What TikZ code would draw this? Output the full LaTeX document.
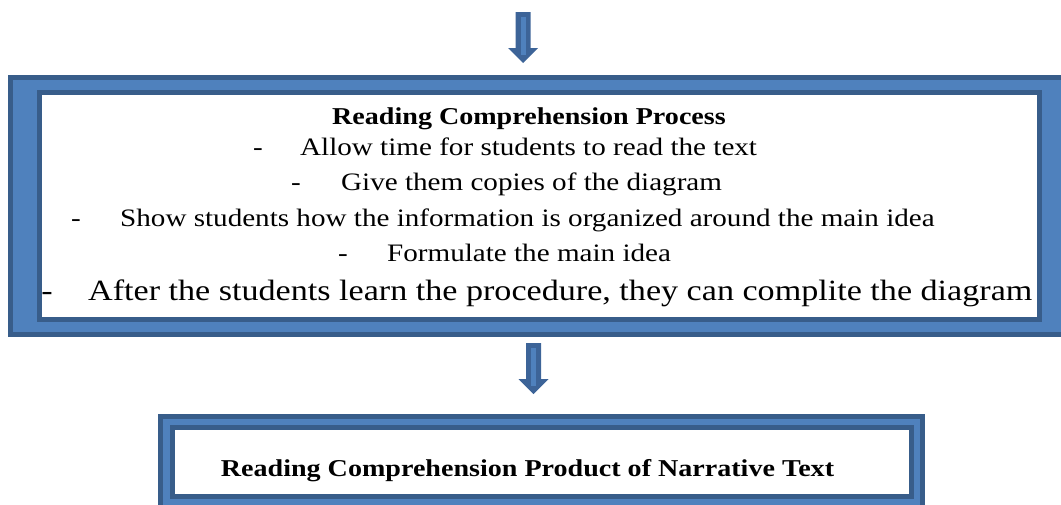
\documentclass[tikz,border=0pt]{standalone}
\usepackage{fontspec}
\setmainfont{Liberation Serif}[FakeStretch=1.16]
\definecolor{lightb}{HTML}{4F81BD}
\definecolor{darkb}{HTML}{385D8A}
\definecolor{arrowc}{HTML}{3D6498}
\tikzset{
  txt/.style={inner sep=0pt, anchor=base west, font=\fontsize{25.1}{30}\selectfont},
  bigtxt/.style={inner sep=0pt, anchor=base west, font=\fontsize{29.4}{36}\selectfont},
  dashmark/.style={inner sep=0pt, anchor=base, font=\fontsize{25.1}{30}\selectfont},
  titletxt/.style={inner sep=0pt, anchor=base, font=\fontsize{24.2}{30}\selectfont\bfseries},
  blockarrow/.pic={
    \fill[arrowc] (-7.5,0) -- (7.5,0) -- (7.5,36) -- (15,36) -- (0,51) -- (-15,36) -- (-7.5,36) -- cycle;
    \fill[lightb] (-2.5,5) rectangle (2.5,43);
  }
}
\begin{document}
\begin{tikzpicture}[x=1pt,y=-1pt]
\useasboundingbox (0,0) rectangle (1061,504);
\clip (0,0) rectangle (1061,504);
% top arrow
\pic at (523,12) {blockarrow};
% process frame
\fill[lightb] (8,75) rectangle (1070,337);
\draw[darkb, line width=5pt] (10.5,77.5) rectangle (1075,334.5);
\draw[darkb, line width=5pt, fill=white] (39.5,92.5) rectangle (1039.5,319.5);
\node[titletxt] (title) at (529,124) {Reading Comprehension Process};
\node[dashmark] (d1) at (258,155) {-};
\node[txt] (l1) at (300,155) {Allow time for students to read the text};
\node[dashmark] (d2) at (296,190.5) {-};
\node[txt] (l2) at (341,190.5) {Give them copies of the diagram};
\node[dashmark] (d3) at (76,226) {-};
\node[txt] (l3) at (120,226) {Show students how the information is organized around the main idea};
\node[dashmark] (d4) at (343,261.5) {-};
\node[txt] (l4) at (387,261.5) {Formulate the main idea};
\node[dashmark, font=\fontsize{29.4}{36}\selectfont] (d5) at (47,300) {-};
\node[bigtxt] (l5) at (88,300) {After the students learn the procedure, they can complite the diagram};
% second arrow
\pic at (533.5,343) {blockarrow};
% product frame
\fill[lightb] (158,414) rectangle (925,515);
\draw[darkb, line width=5pt] (160.5,416.5) rectangle (922.5,515);
\draw[darkb, line width=5pt, fill=white] (172.5,427.5) rectangle (911.5,496.5);
\node[titletxt] (product) at (527.5,476) {Reading Comprehension Product of Narrative Text};
\end{tikzpicture}
\end{document}
